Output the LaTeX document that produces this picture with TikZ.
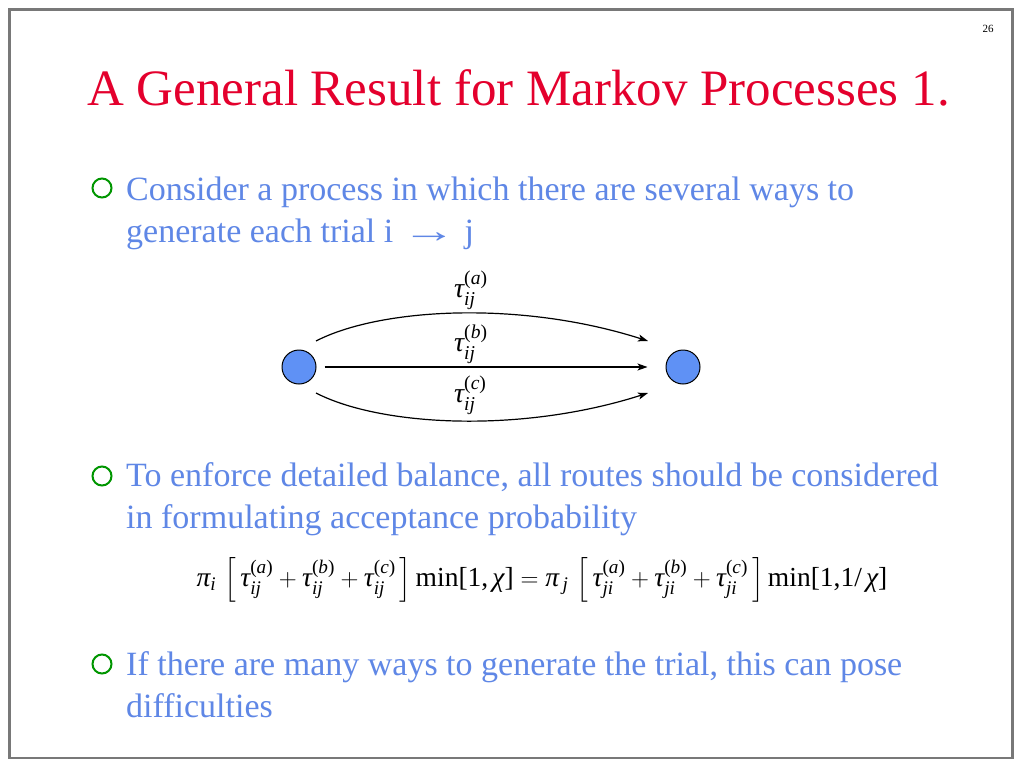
\documentclass[tikz,border=0pt]{standalone}
\usepackage{amsmath}
\usepackage{fontspec}
\setmainfont{Liberation Serif}
\usetikzlibrary{arrows.meta}
\definecolor{bodyblue}{RGB}{95,135,230}
\definecolor{titlered}{RGB}{228,0,45}
\definecolor{bulgreen}{RGB}{0,150,0}
\definecolor{dotblue}{RGB}{95,145,245}
\definecolor{framegray}{RGB}{120,120,120}
\newcommand\mi[1]{\text{\itshape #1}}
\newcommand\tauq[2]{\mi{τ}_{\mi{#1}}^{\text{(\itshape #2\upshape)}}}
\tikzset{
  bodytext/.style={anchor=base west, inner sep=0, text=bodyblue, font=\fontsize{34}{40}\selectfont},
  bul/.style={circle, draw=bulgreen, line width=2, minimum size=19, inner sep=0},
  dot/.style={circle, draw=black, line width=1, fill=dotblue, minimum size=34, inner sep=0},
  arr/.style={line width=1.2, -{Stealth[length=10,width=7,inset=2.5]}},
  lbl/.style={anchor=base west, inner sep=0, font=\fontsize{28}{30}\selectfont},
}
\begin{document}
\begin{tikzpicture}[x=1pt,y=-1pt]
\useasboundingbox (0,0) rectangle (1024,768);
\fill[white] (0,0) rectangle (1024,768);
\draw[framegray, line width=2.5] (9.5,9.5) rectangle (1012.5,758);
\node[inner sep=0, font=\fontsize{11}{12}\selectfont] (pg) at (988,29) {26};
\node[anchor=base west, inner sep=0, text=titlered, font=\fontsize{51}{58}\selectfont] (title) at (87,105) {A General Result for Markov Processes 1.};
% bullet 1
\node[bul] (b1) at (102,188) {};
\node[bodytext] (t1a) at (126,200) {Consider a process in which there are several ways to};
\node[bodytext] (t1b) at (126,242) {generate each trial i \scalebox{1.6}[1]{→} j};
% diagram
\node[dot] (L) at (299,367) {};
\node[dot] (R) at (683,367) {};
\coordinate (a0) at (316,341);
\coordinate (a1) at (648,341);
\coordinate (c0) at (316,393);
\coordinate (c1) at (648,393);
\draw[arr] (a0) .. controls (380,308) and (520,300) .. (a1);
\draw[arr, shorten <=8, shorten >=18] (L) -- (R);
\draw[arr] (c0) .. controls (380,426) and (520,434) .. (c1);
\node[lbl] (la) at (454,297) {$\tauq{ij}{a}$};
\node[lbl] (lb) at (454,351) {$\tauq{ij}{b}$};
\node[lbl] (lc) at (454,402) {$\tauq{ij}{c}$};
% bullet 2
\node[bul] (b2) at (102,476) {};
\node[bodytext] (t2a) at (126,486) {To enforce detailed balance, all routes should be considered};
\node[bodytext] (t2b) at (126,528) {in formulating acceptance probability};
% equation
\node[anchor=base, inner sep=0, font=\fontsize{27.5}{30}\selectfont] (eq) at (542,586)
  {$\mi{π}_{\mi{i}}\,\left[\,\tauq{ij}{a}+\tauq{ij}{b}+\tauq{ij}{c}\,\right]\text{min[1,}\,\mi{χ}\text{]}=\mi{π}_{\,\mi{j}}\,\left[\,\tauq{ji}{a}+\tauq{ji}{b}+\tauq{ji}{c}\,\right]\text{min[1,1/}\,\mi{χ}\text{]}$};
% bullet 3
\node[bul] (b3) at (102,664) {};
\node[bodytext] (t3a) at (126,675) {If there are many ways to generate the trial, this can pose};
\node[bodytext] (t3b) at (126,717) {difficulties};
\end{tikzpicture}
\end{document}
